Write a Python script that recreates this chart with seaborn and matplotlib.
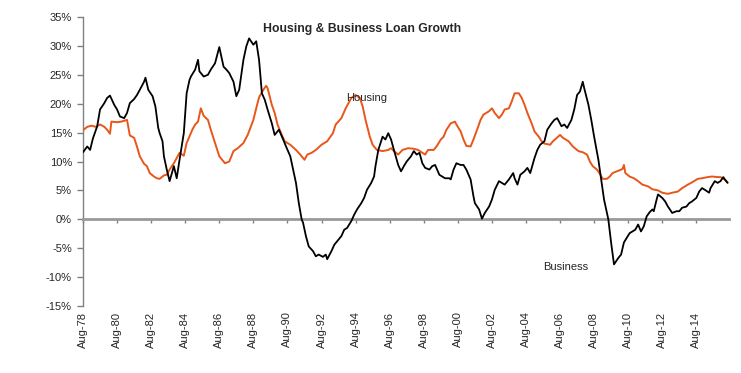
import matplotlib
matplotlib.use("Agg")
import matplotlib.pyplot as plt
import seaborn as sns
import pandas as pd

# ---- data (months since Aug-1978, growth in %) ----
business_m = [0, 3, 5, 7, 10, 12, 15, 17, 19, 22, 24, 26, 29, 31, 33, 36, 38, 40, 43, 44,
              46, 49, 51, 53, 54, 56, 57, 59, 61, 64, 66, 68, 71, 73, 75, 76, 79, 81, 82, 85,
              88, 90, 93, 96, 99, 101, 103, 106, 108, 110, 113, 115, 117, 120, 122, 124, 126, 128, 130, 133,
              135, 138, 141, 143, 146, 148, 150, 152, 154, 155, 157, 159, 162, 164, 166, 169, 171, 172, 175, 177,
              179, 182, 184, 186, 189, 191, 193, 196, 198, 200, 203, 205, 206, 208, 210, 211, 213, 215, 217, 219,
              222, 224, 226, 228, 231, 233, 235, 237, 239, 241, 244, 246, 248, 251, 253, 255, 258, 259, 261, 263,
              266, 268, 270, 273, 275, 276, 279, 281, 283, 286, 288, 290, 293, 295, 297, 300, 303, 304, 306, 308,
              311, 313, 315, 318, 320, 322, 325, 327, 330, 332, 334, 337, 339, 341, 344, 346, 348, 350, 352, 353,
              356, 358, 360, 363, 365, 367, 370, 372, 374, 377, 379, 381, 383, 385, 387, 389, 391, 393, 395, 397,
              399, 401, 402, 404, 405, 408, 410, 412, 415, 418, 420, 422, 425, 427, 429, 432, 434, 436, 438, 441,
              442, 445, 447, 449, 451, 452, 454]
business_v = [11.6, 12.6, 12.0, 14.0, 16.1, 19.0, 20.1, 21.0, 21.4, 19.8, 19.0, 17.8, 17.5, 18.4, 20.1, 20.8, 21.5, 22.4, 23.8, 24.5,
              22.4, 21.3, 19.5, 15.8, 14.9, 13.5, 10.9, 8.6, 6.6, 9.2, 7.1, 10.3, 14.9, 21.8, 24.1, 24.7, 25.9, 27.6, 25.6, 24.7,
              25.0, 25.9, 27.0, 29.8, 26.4, 25.9, 25.3, 23.8, 21.3, 22.4, 27.6, 29.9, 31.3, 30.2, 30.8, 27.6, 21.8, 20.7, 19.0, 16.6,
              14.6, 15.5, 13.8, 12.6, 10.9, 8.6, 6.3, 2.8, 0.0, -0.6, -2.9, -4.7, -5.5, -6.4, -6.1, -6.5, -6.1, -6.9, -5.5, -4.4,
              -3.8, -2.9, -1.8, -1.5, -0.3, 0.8, 1.7, 2.8, 3.7, 5.1, 6.3, 7.4, 9.2, 12.0, 13.5, 14.3, 13.8, 14.9, 13.8, 12.0,
              9.4, 8.3, 9.2, 10.0, 10.9, 11.8, 11.2, 11.5, 9.7, 8.9, 8.6, 9.2, 9.4, 7.7, 7.4, 7.1, 7.1, 6.9, 8.6, 9.7,
              9.4, 9.4, 8.6, 6.9, 4.0, 2.8, 1.7, 0.1, 1.1, 2.2, 3.4, 5.1, 6.6, 6.3, 6.0, 6.9, 8.0, 7.1, 6.0, 7.7,
              8.3, 8.9, 8.0, 10.6, 12.0, 12.9, 13.5, 15.5, 16.6, 17.2, 17.5, 16.1, 16.4, 15.8, 17.2, 19.0, 21.5, 22.1, 23.8, 22.7,
              19.8, 17.2, 14.3, 10.3, 6.9, 3.4, 0.0, -4.1, -7.8, -6.7, -6.1, -4.0, -3.2, -2.4, -2.1, -1.8, -0.9, -2.1, -1.2, 0.5,
              1.2, 1.7, 1.4, 3.4, 4.3, 3.7, 3.1, 2.2, 1.1, 1.4, 1.4, 2.0, 2.2, 2.8, 3.1, 3.7, 4.8, 5.4, 5.1, 4.6,
              5.4, 6.6, 6.3, 6.6, 7.3, 6.9, 6.3]

housing_m = [0, 3, 6, 9, 12, 15, 17, 19, 20, 24, 27, 31, 33, 36, 38, 40, 43, 45, 47, 50,
             52, 54, 57, 59, 61, 64, 66, 68, 71, 73, 77, 79, 81, 83, 85, 88, 90, 93, 96, 100,
             103, 106, 109, 113, 116, 120, 122, 124, 127, 129, 130, 133, 135, 137, 140, 142, 146, 150, 153, 156,
             158, 161, 164, 168, 172, 176, 178, 182, 185, 189, 192, 195, 197, 199, 202, 204, 207, 211, 215, 217,
             219, 222, 225, 229, 233, 236, 241, 243, 247, 249, 252, 254, 256, 259, 262, 263, 266, 268, 270, 273,
             275, 278, 280, 282, 286, 288, 290, 293, 295, 297, 300, 302, 304, 307, 309, 311, 313, 316, 318, 321,
             323, 325, 329, 331, 336, 338, 342, 345, 349, 352, 355, 357, 359, 362, 364, 366, 369, 371, 373, 377,
             380, 381, 382, 385, 388, 391, 394, 398, 401, 405, 408, 412, 415, 419, 422, 426, 429, 433, 436, 440,
             443, 447, 449, 452, 454]
housing_v = [15.4, 16.0, 16.2, 16.0, 16.4, 16.0, 15.5, 14.8, 16.9, 16.8, 16.9, 17.2, 14.5, 14.1, 12.6, 10.9, 9.6, 9.2, 8.0, 7.4,
             7.1, 7.0, 7.6, 7.7, 8.6, 9.7, 10.6, 11.5, 11.0, 13.2, 15.5, 16.4, 16.9, 19.2, 17.9, 17.2, 15.5, 13.2, 10.9, 9.7,
             10.0, 11.8, 12.3, 13.2, 14.6, 17.2, 19.2, 21.1, 22.4, 23.1, 22.7, 19.8, 18.4, 16.4, 14.6, 13.5, 12.9, 12.0, 11.2, 10.3,
             11.2, 11.5, 12.0, 12.9, 13.5, 14.9, 16.4, 17.5, 19.2, 21.0, 21.5, 21.0, 19.5, 17.2, 14.3, 12.9, 12.0, 11.8, 12.0, 12.3,
             11.8, 11.2, 12.0, 12.3, 12.2, 12.0, 11.2, 12.0, 12.0, 12.6, 13.8, 14.3, 15.5, 16.6, 16.9, 16.4, 15.2, 13.8, 12.7, 12.6,
             13.8, 15.8, 17.2, 18.1, 18.7, 19.2, 18.4, 17.5, 18.1, 19.0, 19.2, 20.4, 21.8, 21.8, 21.0, 19.8, 18.4, 16.6, 15.2, 14.3,
             13.5, 13.1, 12.9, 13.5, 14.6, 14.1, 13.5, 12.6, 11.8, 11.6, 11.2, 10.0, 9.2, 8.6, 7.9, 7.0, 7.0, 7.4, 8.0, 8.4,
             8.7, 9.4, 8.0, 7.4, 7.1, 6.6, 6.0, 5.7, 5.2, 5.0, 4.6, 4.4, 4.6, 4.8, 5.4, 6.0, 6.4, 7.0, 7.1, 7.3,
             7.4, 7.3, 7.3, 6.9, 6.4]

tick_months = list(range(0, 433, 24))
tick_labels = ["Aug-78", "Aug-80", "Aug-82", "Aug-84", "Aug-86", "Aug-88", "Aug-90", "Aug-92", "Aug-94",
               "Aug-96", "Aug-98", "Aug-00", "Aug-02", "Aug-04", "Aug-06", "Aug-08", "Aug-10", "Aug-12", "Aug-14"]
y_ticks = [-15, -10, -5, 0, 5, 10, 15, 20, 25, 30, 35]
y_tick_labels = ["-15%", "-10%", "-5%", "0%", "5%", "10%", "15%", "20%", "25%", "30%", "35%"]
title = "Housing & Business Loan Growth"

# ---- style ----
sns.set_style("white")
plt.rcParams['font.family'] = ['Liberation Sans', 'DejaVu Sans']

W, H = 741, 373
fig = plt.figure(figsize=(W / 100, H / 100), dpi=100)
ax = fig.add_axes([83 / W, 67 / H, 646 / W, 289 / H])

df_h = pd.DataFrame({"m": housing_m, "v": housing_v})
df_b = pd.DataFrame({"m": business_m, "v": business_v})
sns.lineplot(data=df_h, x="m", y="v", ax=ax, color="#E8561A", linewidth=1.4, zorder=3)
sns.lineplot(data=df_b, x="m", y="v", ax=ax, color="black", linewidth=1.3, zorder=4)

ax.set_xlim(0, 455)
ax.set_ylim(-15, 35)
ax.set_xlabel("")
ax.set_ylabel("")
ax.set_yticks(y_ticks)
ax.set_yticklabels(y_tick_labels)
ax.tick_params(axis="y", direction="out", length=4, width=1, color="#808080",
               labelsize=8, pad=4, left=True)

for s in ["top", "right"]:
    ax.spines[s].set_visible(False)
ax.spines["left"].set_color("#808080")
ax.spines["left"].set_linewidth(1)
ax.spines["bottom"].set_position(("data", 0))
ax.spines["bottom"].set_color("#999999")
ax.spines["bottom"].set_linewidth(2)

ax.set_xticks(tick_months)
ax.tick_params(axis="x", direction="out", length=3, width=1, color="#808080",
               labelbottom=False, bottom=True)

sec = ax.secondary_xaxis("bottom")
sec.set_xticks(tick_months)
sec.set_xticklabels(tick_labels, rotation=90, fontsize=8)
sec.tick_params(length=0, pad=4)
sec.spines["bottom"].set_visible(False)

ax.text(0.432, 0.96, title, transform=ax.transAxes, ha="center", va="center",
        fontsize=8.8, fontweight="bold")
ax.text(185, 20.9, "Housing", ha="left", va="center", fontsize=8)
ax.text(324, -8.2, "Business", ha="left", va="center", fontsize=8)

fig.savefig("out.png", dpi=100)
